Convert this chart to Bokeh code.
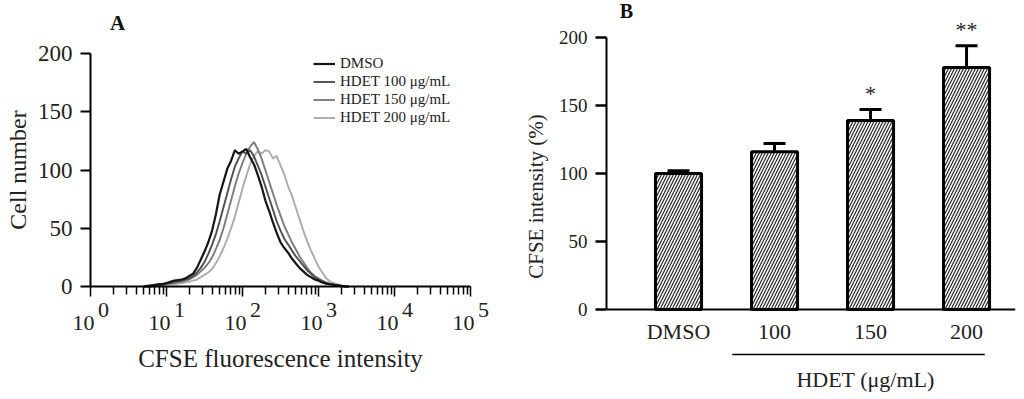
from bokeh.plotting import figure
from bokeh.models import (Range1d, FixedTicker, Label, LabelSet, Legend, LegendItem,
                          Whisker, TeeHead, Arrow, ColumnDataSource)
from bokeh.layouts import row
from bokeh.embed import file_html
from bokeh.resources import INLINE

FONT = "Liberation Serif"

# ---------------- Panel A data (flow cytometry histograms) ----------------
log_channel = [0.70, 0.75, 0.80, 0.85, 0.90, 0.95, 1.00, 1.05, 1.10, 1.15,
               1.20, 1.25, 1.30, 1.35, 1.40, 1.45, 1.50, 1.55, 1.60, 1.65,
               1.70, 1.75, 1.80, 1.85, 1.90, 1.95, 2.00, 2.05, 2.10, 2.15,
               2.20, 2.25, 2.30, 2.35, 2.40, 2.45, 2.50, 2.55, 2.60, 2.65,
               2.70, 2.75, 2.80, 2.85, 2.90, 2.95, 3.00, 3.05, 3.10, 3.15,
               3.20, 3.25, 3.30, 3.35, 3.40]
dmso = [0, 0.5, 1, 1.5, 2, 2, 3, 4, 5, 5.5,
        6, 7, 9, 11, 16, 23, 30, 38, 48, 62,
        79, 90, 101, 108, 117, 114, 116, 118, 111, 105,
        96, 86, 74, 65, 55, 46, 38, 33, 29, 24,
        20, 16, 13, 10, 8, 6, 5, 3.5, 2.5, 2,
        1.5, 1, 0.5, 0, 0]
hdet100 = [0, 0, 0.5, 1, 1.5, 2, 2.5, 3, 4, 4.5,
           5, 6, 7, 9, 12, 16, 21, 28, 36, 45,
           56, 68, 80, 92, 103, 110, 116, 114, 117, 112,
           104, 96, 86, 76, 66, 56, 48, 41, 36, 31,
           26, 22, 18, 14, 11, 8, 6, 4.5, 3, 2,
           1.5, 1, 0.5, 0, 0]
hdet150 = [0, 0, 0, 0.5, 1, 1.5, 2, 2.5, 3, 3.5,
           4, 5, 6, 8, 10, 13, 16, 20, 25, 32,
           40, 50, 62, 74, 86, 97, 106, 114, 120, 124,
           118, 110, 100, 90, 80, 70, 61, 52, 45, 38,
           32, 26, 21, 16, 12, 9, 7, 5, 3.5, 2.5,
           1.5, 1, 0.5, 0, 0]
hdet200 = [0, 0, 0, 0, 0.5, 1, 1.5, 2, 2, 2.5,
           3, 3.5, 4, 5, 6, 8, 10, 12, 15, 20,
           26, 33, 41, 50, 60, 72, 84, 95, 105, 112,
           116, 114, 117, 116, 110, 112, 104, 96, 86, 78,
           68, 58, 48, 39, 31, 24, 17, 12, 7, 4.5,
           3, 2, 1, 0.5, 0]
series_labels = ["DMSO", "HDET 100 \u03bcg/mL", "HDET 150 \u03bcg/mL", "HDET 200 \u03bcg/mL"]
series_colors = ["#151515", "#4f4f4f", "#7c7c7c", "#ababab"]
cell_ticks = [0, 50, 100, 150, 200]
decade_exponents = [0, 1, 2, 3, 4, 5]

# ---------------- Panel B data (bar chart) ----------------
categories = ["DMSO", "100", "150", "200"]
cfse_mean = [100, 116, 139, 178]
cfse_err = [2, 6, 8, 16]
significance = ["", "", "*", "**"]
cfse_ticks = [0, 50, 100, 150, 200]

TXT = "#222222"

# ======================= Panel A =======================
intensity = [10 ** v for v in log_channel]
decades = [10 ** e for e in decade_exponents]
minor = [m * d for d in decades[:-1] for m in range(2, 10)]

p1 = figure(width=512, height=396, x_axis_type="log",
            x_range=Range1d(10 ** -1.1842, 10 ** 5.5526), y_range=Range1d(-90.99, 245.5),
            output_backend="svg", toolbar_location=None,
            min_border_left=0, min_border_right=0, min_border_top=0, min_border_bottom=4)
p1.outline_line_color = None
p1.grid.visible = False

series = [dmso, hdet100, hdet150, hdet200]
widths = [2.2, 1.9, 1.9, 1.9]
rends = [None] * 4
for i in reversed(range(4)):
    rends[i] = p1.line(intensity, series[i], line_color=series_colors[i], line_width=widths[i])
items = [LegendItem(label=series_labels[i], renderers=[rends[i]]) for i in range(4)]
legend = Legend(items=items, location=(313, 266), padding=0, margin=0, spacing=1,
                glyph_width=22, glyph_height=17, label_height=17, label_standoff=5,
                label_text_font=FONT, label_text_font_size="15px", label_text_color=TXT,
                border_line_alpha=0, background_fill_alpha=0)
p1.add_layout(legend)

xa = p1.xaxis[0]
xa.fixed_location = 0
xa.bounds = (decades[0], decades[-1])
xa.ticker = FixedTicker(ticks=decades, minor_ticks=minor)
xa.axis_line_width = 2
xa.major_tick_out = 10
xa.major_tick_in = 0
xa.minor_tick_out = 8
xa.minor_tick_in = 0
xa.major_tick_line_width = 1.5
xa.minor_tick_line_width = 1.5
xa.major_label_overrides = {d: "" for d in decades}
xa.major_label_text_font_size = "2px"

ya = p1.yaxis[0]
ya.fixed_location = decades[0]
ya.bounds = (cell_ticks[0], cell_ticks[-1])
ya.ticker = FixedTicker(ticks=cell_ticks)
ya.axis_line_width = 2
ya.major_tick_out = 10
ya.major_tick_in = 0
ya.major_tick_line_width = 2
ya.minor_tick_line_color = None
ya.major_label_standoff = 8
ya.major_label_text_font = FONT
ya.major_label_text_font_size = "23px"
ya.major_label_text_color = TXT
ya.axis_label = "Cell number"
ya.axis_label_text_font = FONT
ya.axis_label_text_font_size = "24px"
ya.axis_label_text_font_style = "normal"
ya.axis_label_text_color = TXT
ya.axis_label_standoff = 4

for d, e in zip(decades, decade_exponents):
    p1.add_layout(Label(x=d, y=0, text="10", x_offset=-7, y_offset=-37,
                        text_align="center", text_baseline="middle",
                        text_font=FONT, text_font_size="22px", text_color=TXT))
    p1.add_layout(Label(x=d, y=0, text=str(e), x_offset=13, y_offset=-24,
                        text_align="center", text_baseline="middle",
                        text_font=FONT, text_font_size="22px", text_color=TXT))

p1.add_layout(Label(x=(decades[0] * decades[-1]) ** 0.5, y=0, y_offset=-72,
                    text="CFSE fluorescence intensity",
                    text_align="center", text_baseline="middle",
                    text_font=FONT, text_font_size="25px", text_color=TXT))
p1.add_layout(Label(x=decades[0], y=cell_ticks[-1], text="A", x_offset=27, y_offset=31,
                    text_align="center", text_baseline="middle",
                    text_font=FONT, text_font_size="21px", text_font_style="bold",
                    text_color="#111111"))

# ======================= Panel B =======================
positions = list(range(len(categories)))
upper = [m + e for m, e in zip(cfse_mean, cfse_err)]
src = ColumnDataSource(dict(x=positions, top=cfse_mean, upper=upper))
sig_idx = [i for i, s in enumerate(significance) if s]
sig_src = ColumnDataSource(dict(x=[positions[i] for i in sig_idx],
                                y=[upper[i] for i in sig_idx],
                                sig=[significance[i] for i in sig_idx]))

p2 = figure(width=512, height=396, x_range=Range1d(-0.75, 3.51), y_range=Range1d(-61.03, 227.2),
            output_backend="svg", toolbar_location=None,
            min_border_left=94, min_border_right=9, min_border_top=0, min_border_bottom=4)
p2.outline_line_color = None
p2.grid.visible = False

p2.vbar(x="x", top="top", width=0.48, source=src, fill_color="white",
        line_color="black", line_width=3,
        hatch_pattern="/", hatch_color="#222222", hatch_weight=1.2, hatch_scale=6)
p2.add_layout(Whisker(source=src, base="x", lower="top", upper="upper", dimension="height",
                      line_color="black", line_width=3,
                      upper_head=TeeHead(size=22, line_width=3, line_color="black"),
                      lower_head=TeeHead(size=1, line_alpha=0)))
p2.add_layout(LabelSet(source=sig_src, x="x", y="y", text="sig", y_offset=9,
                       text_align="center", text_baseline="alphabetic",
                       text_font=FONT, text_font_size="22px", text_color=TXT))

xb = p2.xaxis[0]
xb.fixed_location = 0
xb.ticker = FixedTicker(ticks=positions)
xb.major_label_overrides = {p: c for p, c in zip(positions, categories)}
xb.axis_line_width = 2
xb.major_tick_out = 0
xb.major_tick_in = 0
xb.minor_tick_line_color = None
xb.major_label_standoff = 10
xb.major_label_text_font = FONT
xb.major_label_text_font_size = "22px"
xb.major_label_text_color = TXT

yb = p2.yaxis[0]
yb.bounds = (cfse_ticks[0], cfse_ticks[-1])
yb.ticker = FixedTicker(ticks=cfse_ticks)
yb.axis_line_width = 2
yb.major_tick_out = 11
yb.major_tick_in = 0
yb.major_tick_line_width = 2.5
yb.minor_tick_line_color = None
yb.major_label_standoff = 8
yb.major_label_text_font = FONT
yb.major_label_text_font_size = "19px"
yb.major_label_text_color = TXT
yb.axis_label = "CFSE intensity (%)"
yb.axis_label_text_font = FONT
yb.axis_label_text_font_size = "21px"
yb.axis_label_text_font_style = "normal"
yb.axis_label_text_color = TXT
yb.axis_label_standoff = 8

p2.add_layout(Arrow(x_start=positions[1] - 0.44, x_end=positions[3] + 0.19,
                    y_start=-33, y_end=-33, end=None,
                    line_color="black", line_width=1.5))
p2.add_layout(Label(x=positions[2], y=-51.5, x_offset=-5, text="HDET (\u03bcg/mL)",
                    text_align="center", text_baseline="middle",
                    text_font=FONT, text_font_size="22px", text_color=TXT))
p2.add_layout(Label(x=p2.x_range.start, y=cfse_ticks[-1], text="B", x_offset=20, y_offset=26,
                    text_align="center", text_baseline="middle",
                    text_font=FONT, text_font_size="20px", text_font_style="bold",
                    text_color="#111111"))

layout = row(p1, p2)
open("out.html", "w").write(file_html(layout, INLINE))
